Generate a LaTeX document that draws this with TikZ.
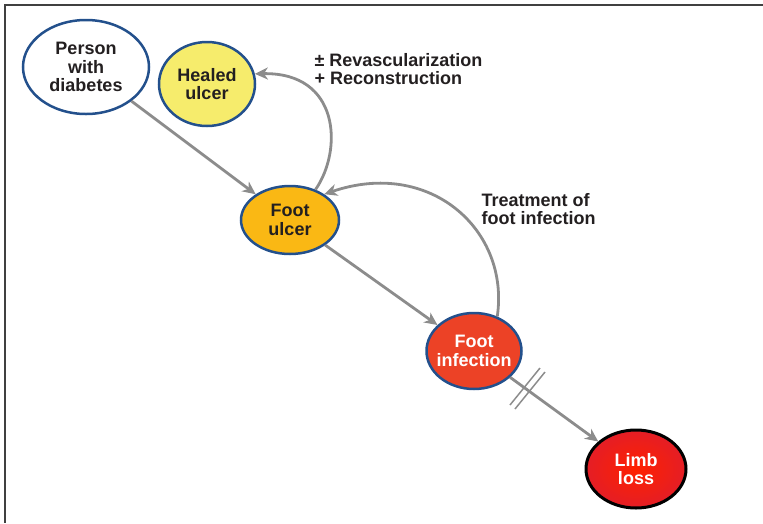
\documentclass[tikz,border=0pt]{standalone}
\usepackage{fontspec}
\setmainfont{Liberation Sans}
\usetikzlibrary{shapes.geometric,arrows.meta}
\definecolor{rimblue}{RGB}{35,80,140}
\definecolor{healyellow}{RGB}{246,236,108}
\definecolor{ulcerorange}{RGB}{250,184,20}
\definecolor{infred}{RGB}{236,66,38}
\definecolor{lossred}{RGB}{228,30,38}
\definecolor{pathgray}{RGB}{140,140,140}
\definecolor{inkblack}{RGB}{35,31,32}
\begin{document}
\begin{tikzpicture}[x=1pt, y=-1pt,
        state/.style={ellipse, draw=rimblue, line width=2.5pt,
            inner xsep=-15pt, inner ysep=-10pt,
            align=center, text=inkblack,
            font=\fontsize{18}{18.5}\selectfont\bfseries},
        note/.style={align=left, anchor=west, text=inkblack,
            font=\fontsize{18}{18.5}\selectfont\bfseries},
        arrow/.style={-{Stealth[length=13pt, width=12pt, inset=4pt]},
            draw=pathgray, line width=2.8pt}
    ]
        \useasboundingbox (0,0) rectangle (763,523);

        % Frame
        \draw[line width=2pt, black!75] (763,5) -- (5,5) -- (5,523);

        % States
        \node[state, fill=white, minimum width=126, minimum height=94] (person) at (86,67) {Person\\with\\diabetes};
        \node[state, fill=healyellow, minimum width=96, minimum height=84] (healed) at (207,84) {Healed\\ulcer};
        \node[state, fill=ulcerorange, minimum width=98, minimum height=68] (fulcer) at (290,220) {Foot\\ulcer};
        \node[state, fill=infred, text=white, minimum width=95, minimum height=76] (infection) at (474,351) {Foot\\infection};
        \node[state, draw=black, line width=3pt, inner color=red!75!orange, outer color=lossred, text=white,
            minimum width=100, minimum height=78] (loss) at (636,469) {Limb\\loss};

        % Notes
        \node[note] (revasc) at (311,69) {± Revascularization\\+ Reconstruction};
        \node[note] (treat) at (478,209) {Treatment of\\foot infection};

        % Progression
        \draw[arrow] (person) -- (fulcer);
        \draw[arrow] (fulcer) -- (infection);
        \draw[arrow] (infection) -- (loss);
        \draw[pathgray, line width=1.5pt] (510,405) -- (540,368);
        \draw[pathgray, line width=1.5pt] (515,409) -- (545,372);

        % Treatment loops
        \draw[arrow] (fulcer.50) .. controls (343,150) and (340,72) .. (healed.12);
        \draw[arrow] (infection.56) .. controls (510,230) and (430,158) .. (fulcer.37);
    \end{tikzpicture}
\end{document}
